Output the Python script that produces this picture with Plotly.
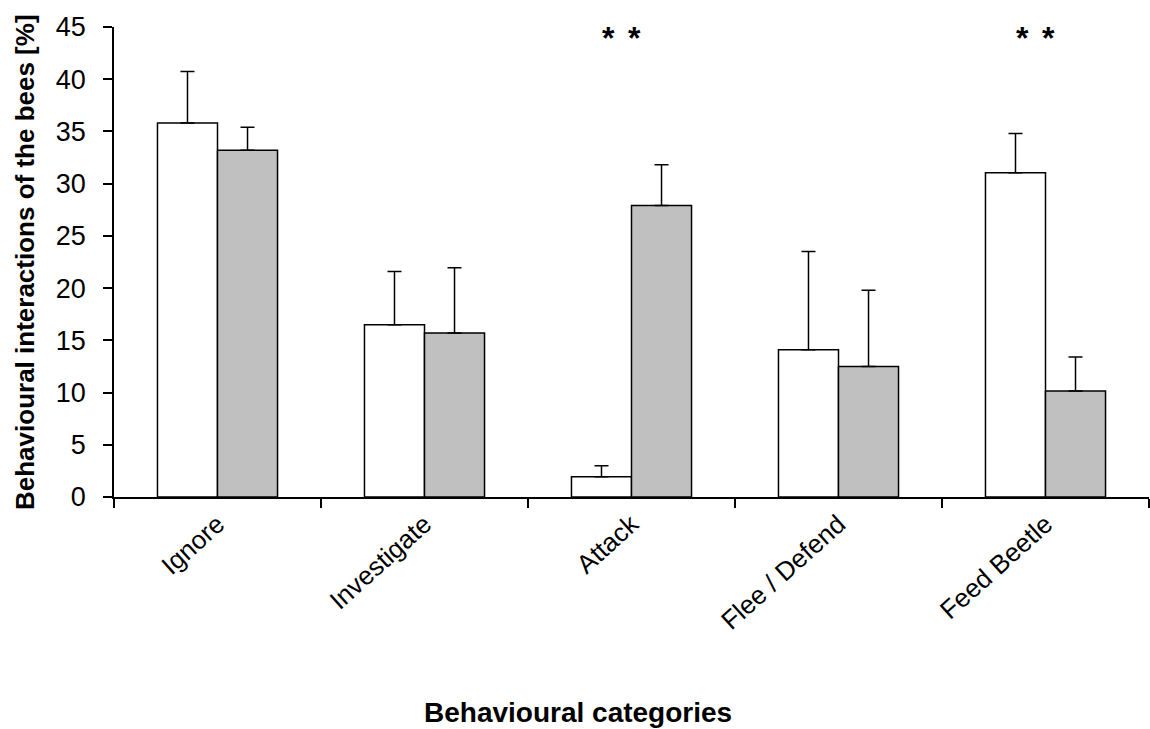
import plotly.graph_objects as go

categories = ["Ignore", "Investigate", "Attack", "Flee / Defend", "Feed Beetle"]
white_values = [35.8, 16.5, 1.95, 14.1, 31.05]
white_err = [4.95, 5.1, 1.05, 9.4, 3.75]
gray_values = [33.2, 15.7, 27.9, 12.5, 10.15]
gray_err = [2.2, 6.25, 3.9, 7.3, 3.25]
significant = ["Attack", "Feed Beetle"]
y_ticks = [0, 5, 10, 15, 20, 25, 30, 35, 40, 45]

FONT = "Liberation Sans, Arial, sans-serif"

fig = go.Figure()
for vals, errs, color in [(white_values, white_err, "white"), (gray_values, gray_err, "#c0c0c0")]:
    fig.add_trace(go.Bar(
        x=categories, y=vals,
        marker=dict(color=color, line=dict(color="black", width=1.5)),
        error_y=dict(type="data", symmetric=False, array=errs,
                     arrayminus=[0] * len(errs), color="black",
                     thickness=1.5, width=7),
        showlegend=False,
    ))

for c in significant:
    for xs in (-23, 3):
        fig.add_annotation(x=c, y=43.9, xref="x", yref="y", text="<b>*</b>",
                           showarrow=False, xshift=xs, yanchor="middle",
                           font=dict(family=FONT, size=32, color="black"))

fig.add_annotation(x=(25 - 114) / 1035, y=0.5, xref="paper", yref="paper",
                   text="<b>Behavioural interactions of the bees [%]</b>",
                   textangle=-90, showarrow=False, xanchor="center", yanchor="middle",
                   font=dict(family=FONT, size=26, color="black"))
fig.add_annotation(x=(578 - 114) / 1035, y=(497 - 712) / 470, xref="paper", yref="paper",
                   text="<b>Behavioural categories</b>",
                   showarrow=False, xanchor="center", yanchor="middle",
                   font=dict(family=FONT, size=28, color="black"))

fig.update_layout(
    width=1150, height=729,
    margin=dict(l=114, r=1, t=27, b=232),
    paper_bgcolor="white", plot_bgcolor="white",
    barmode="group", bargap=0.42, bargroupgap=0,
    font=dict(family=FONT, color="black"),
)
fig.update_xaxes(
    type="category", range=[-0.5, 4.5],
    showline=True, linecolor="black", linewidth=1.5,
    ticks="outside", ticklen=9, tickwidth=1.5, tickcolor="black",
    tickson="boundaries", tickangle=-42,
    tickfont=dict(family=FONT, size=26, color="black"),
    showgrid=False, zeroline=False,
)
fig.update_yaxes(
    range=[0, 45], tickvals=y_ticks,
    showline=True, linecolor="black", linewidth=1.5,
    ticks="outside", ticklen=9, tickwidth=1.5, tickcolor="black",
    ticklabelstandoff=12,
    tickfont=dict(family=FONT, size=27, color="black"),
    showgrid=False, zeroline=False,
)

fig.write_html("out.html", config={"displayModeBar": False},
               post_script="document.body.style.margin='0';document.body.style.overflow='hidden';")
